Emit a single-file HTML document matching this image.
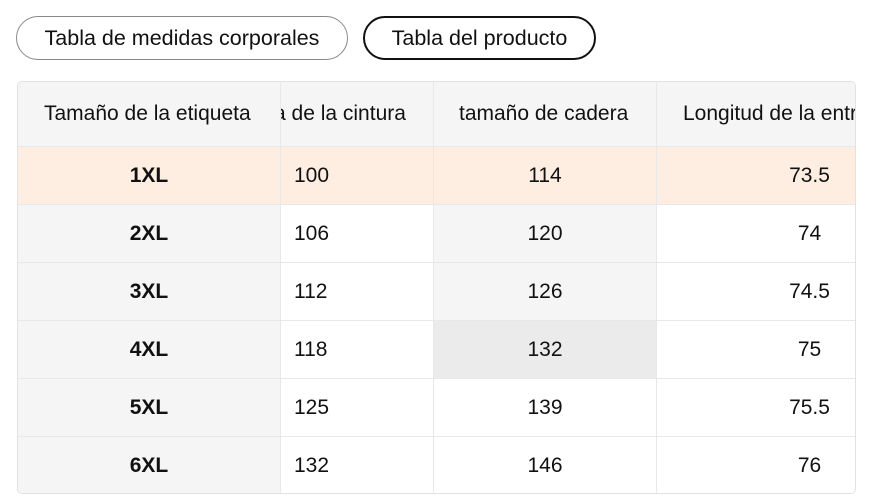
<!DOCTYPE html>
<html><head><style>
*{box-sizing:border-box;margin:0;padding:0}
body{width:870px;height:504px;background:#fff;font-family:"Liberation Sans",Arial,sans-serif;color:#111;position:relative;overflow:hidden}
.btn{position:absolute;top:16px;height:44px;border-radius:22px;font-size:21.5px;display:flex;align-items:center;justify-content:center}
.b1{left:16px;width:332px;border:1px solid #888}
.b2{left:363px;width:233px;border:2.5px solid #111}
.wrap{position:absolute;left:17px;top:81px;width:839px;height:413px;overflow:hidden;border:1px solid #e2e2e2;border-radius:5px}
table{position:absolute;left:-1px;top:-1px;width:839px;border-collapse:collapse;table-layout:fixed;font-size:21px}
td{border:1px solid #e8e8e8;height:58px;white-space:nowrap;overflow:hidden;padding:0;background:#fff}
tr.h td{height:65px;background:#f5f5f5}
td.f{background:#f5f5f5;text-align:center;font-weight:bold}
tr.h td.f{font-weight:normal;text-align:left;padding-left:26px}
td.w{padding-left:13px}
td.m{text-align:center}
td.l{text-align:center;padding-left:106px}
tr.p td{background:#fdeee1}
</style></head><body>
<div class="btn b1">Tabla de medidas corporales</div>
<div class="btn b2">Tabla del producto</div>
<div class="wrap">
<table>
<colgroup><col style="width:263px"><col style="width:153px"><col style="width:223px"><col style="width:200px"></colgroup>
<tr class="h"><td class="f">Tamaño de la etiqueta</td><td><span style="margin-left:-7px">a de la cintura</span></td><td style="padding-left:25px">tamaño de cadera</td><td style="padding-left:26px">Longitud de la entrepierna</td></tr>
<tr class="p"><td class="f">1XL</td><td class="w">100</td><td class="m">114</td><td class="l">73.5</td></tr>
<tr><td class="f">2XL</td><td class="w">106</td><td class="m" style="background:#f5f5f5">120</td><td class="l">74</td></tr>
<tr><td class="f">3XL</td><td class="w">112</td><td class="m" style="background:#f5f5f5">126</td><td class="l">74.5</td></tr>
<tr><td class="f">4XL</td><td class="w">118</td><td class="m" style="background:#ebebeb">132</td><td class="l">75</td></tr>
<tr><td class="f">5XL</td><td class="w">125</td><td class="m">139</td><td class="l">75.5</td></tr>
<tr><td class="f">6XL</td><td class="w">132</td><td class="m">146</td><td class="l">76</td></tr>
</table>
</div>
</body></html>
